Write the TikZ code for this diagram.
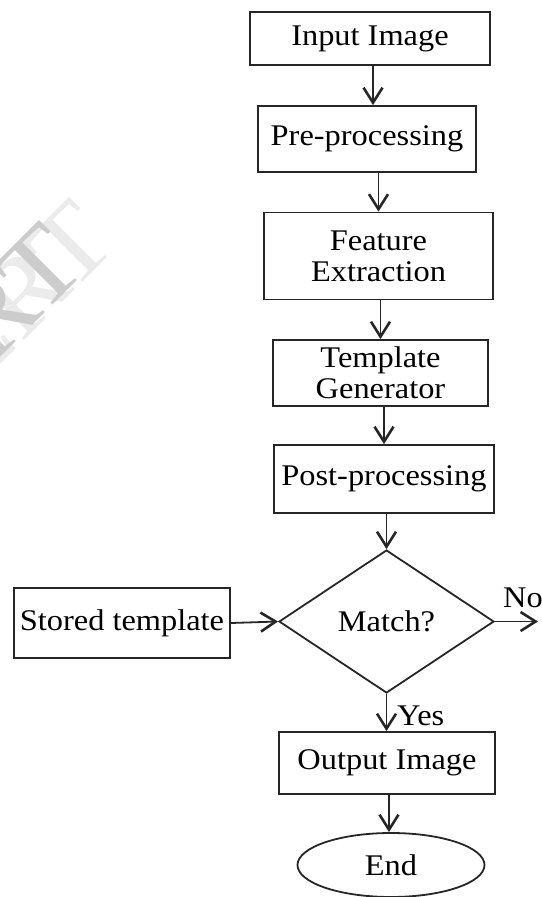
\documentclass[tikz,border=0pt]{standalone}
\usepackage{fontspec}
\setmainfont[FakeStretch=1.08]{Liberation Serif}
\usetikzlibrary{shapes.geometric,arrows.meta}
\begin{document}
\begin{tikzpicture}[x=1pt,y=-1pt,
  line/.style={draw=black!85, line width=1.8pt},
  box/.style={line, rectangle, inner sep=0pt, align=center,
    font=\fontsize{30}{31}\selectfont},
  decision/.style={line, diamond, inner sep=0pt, align=center,
    font=\fontsize{30}{31}\selectfont},
  terminal/.style={line, ellipse, inner sep=0pt, align=center,
    font=\fontsize{30}{31}\selectfont},
  lbl/.style={inner sep=0pt, font=\fontsize{30}{31}\selectfont},
  wm/.style={inner sep=0pt, rotate=45, anchor=base east,
    font=\fontsize{106}{106}\selectfont},
  arr/.style={line, -{Straight Barb[length=15pt,width=19pt,line width=2.6pt]}}]
\useasboundingbox (0,0) rectangle (541,897);

% watermark
\node[wm, text=black!8] (wmb) at (120,245) {IJERT};
\node[wm, text=black!20] (wma) at (90,268) {IJERT};

\node[box, minimum width=240pt, minimum height=53pt] (in) at (370,38.5) {Input Image};
\node[box, minimum width=218pt, minimum height=66pt] (pre) at (367,139) {Pre-processing};
\node[box, minimum width=229pt, minimum height=87pt] (feat) at (378.5,256) {Feature\\Extraction};
\node[box, minimum width=215pt, minimum height=66pt] (tmpl) at (380.5,373) {Template\\Generator};
\node[box, minimum width=220pt, minimum height=68pt] (post) at (384,479) {Post-processing};
\node[decision, minimum width=215pt, minimum height=143pt] (match) at (386.5,621.5) {Match?};
\node[box, minimum width=216pt, minimum height=70pt] (stored) at (122,623) {Stored template};
\node[box, minimum width=216pt, minimum height=62pt] (out) at (387,763) {Output Image};
\node[terminal, minimum width=187pt, minimum height=64pt] (end) at (391,865) {End};
\coordinate (no) at (538,621.5);

\draw[arr] (in.south -| 373,0) -- (pre.north -| 373,0);
\draw[arr] (pre.south -| feat.north) -- (feat.north);
\draw[arr] (feat.south -| tmpl.north) -- (tmpl.north);
\draw[arr] (tmpl.south -| post.north) -- (post.north);
\draw[arr] (post.south -| match.north) -- (match.north);
\draw[arr] (stored.east) -- (match.west);
\draw[arr] (match.east) -- (no);
\draw[arr] (match.south) -- (out.north -| match.south);
\draw[arr] (out.south -| 389,0) -- (end.north -| 389,0);

\node[lbl, anchor=base west] (nolbl) at (503,607) {No};
\node[lbl, anchor=base west] (yeslbl) at (397,725) {Yes};
\end{tikzpicture}
\end{document}
